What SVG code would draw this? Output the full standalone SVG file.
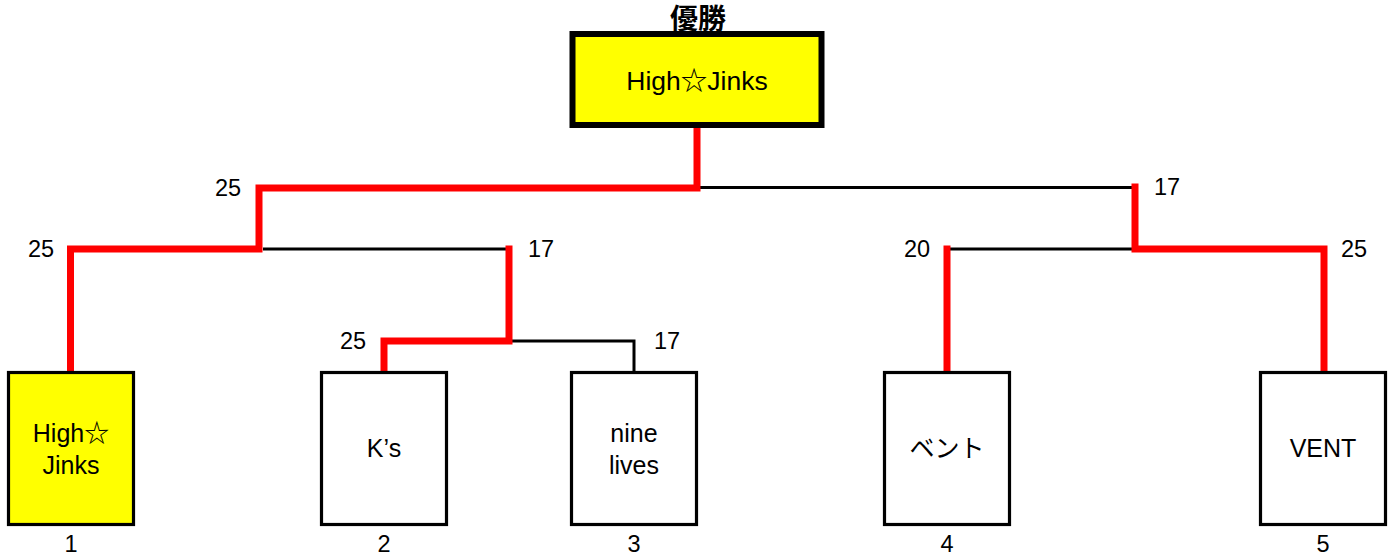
<svg xmlns="http://www.w3.org/2000/svg" width="1396" height="558" viewBox="0 0 1396 558">
<style>
text{font-family:"Liberation Sans","Noto Sans CJK JP",sans-serif;fill:#000;text-anchor:middle}
.lbl{font-size:23.5px}
.nm{font-size:25px}
.blk{stroke:#000;stroke-width:3;fill:none}
.red{stroke:#ff0000;stroke-width:7;fill:none;stroke-linecap:square;stroke-linejoin:miter}
.box{fill:#fff;stroke:#000;stroke-width:3.2}
.win{fill:#ffff00;stroke:#000;stroke-width:3.2}
</style>
<rect width="1396" height="558" fill="#fff"/>
<g id="connectors">
<path class="blk" d="M700 187.5H1135M263 249H509M512 341H634V372M948 249H1135"/>
<path class="red" d="M697 128V188H259V249H70.5V370"/>
<path class="red" d="M509 249V341H384V370"/>
<path class="red" d="M1135 187V249H1324V370"/>
<path class="red" d="M947 249V370"/>
</g>
<g id="scores">
<text class="lbl" x="228" y="196">25</text>
<text class="lbl" x="41" y="257">25</text>
<text class="lbl" x="541" y="257">17</text>
<text class="lbl" x="353" y="349">25</text>
<text class="lbl" x="667" y="349">17</text>
<text class="lbl" x="1167" y="195">17</text>
<text class="lbl" x="917" y="257">20</text>
<text class="lbl" x="1354" y="257">25</text>
</g>
<g id="champion">
<text x="698" y="29" style="font-size:28px;font-weight:bold">優勝</text>
<rect x="572.5" y="34" width="249" height="91" fill="#ffff00" stroke="#000" stroke-width="6"/>
<text x="697" y="90" style="font-size:26.5px">High☆Jinks</text>
</g>
<g id="team1">
<rect class="win" x="8.5" y="372.5" width="125" height="152"/>
<text class="nm" x="71" y="442">High☆</text>
<text class="nm" x="71" y="474">Jinks</text>
<text class="lbl" x="71" y="552">1</text>
</g>
<g id="team2">
<rect class="box" x="321.5" y="372.5" width="125" height="152"/>
<text class="nm" x="384" y="457">K’s</text>
<text class="lbl" x="384" y="552">2</text>
</g>
<g id="team3">
<rect class="box" x="571.5" y="372.5" width="125" height="152"/>
<text class="nm" x="634" y="442">nine</text>
<text class="nm" x="634" y="474">lives</text>
<text class="lbl" x="634" y="552">3</text>
</g>
<g id="team4">
<rect class="box" x="884.5" y="372.5" width="125" height="152"/>
<text class="nm" x="947" y="457">ベント</text>
<text class="lbl" x="947" y="552">4</text>
</g>
<g id="team5">
<rect class="box" x="1260.5" y="372.5" width="125" height="152"/>
<text class="nm" x="1323" y="457">VENT</text>
<text class="lbl" x="1323" y="552">5</text>
</g>
</svg>
